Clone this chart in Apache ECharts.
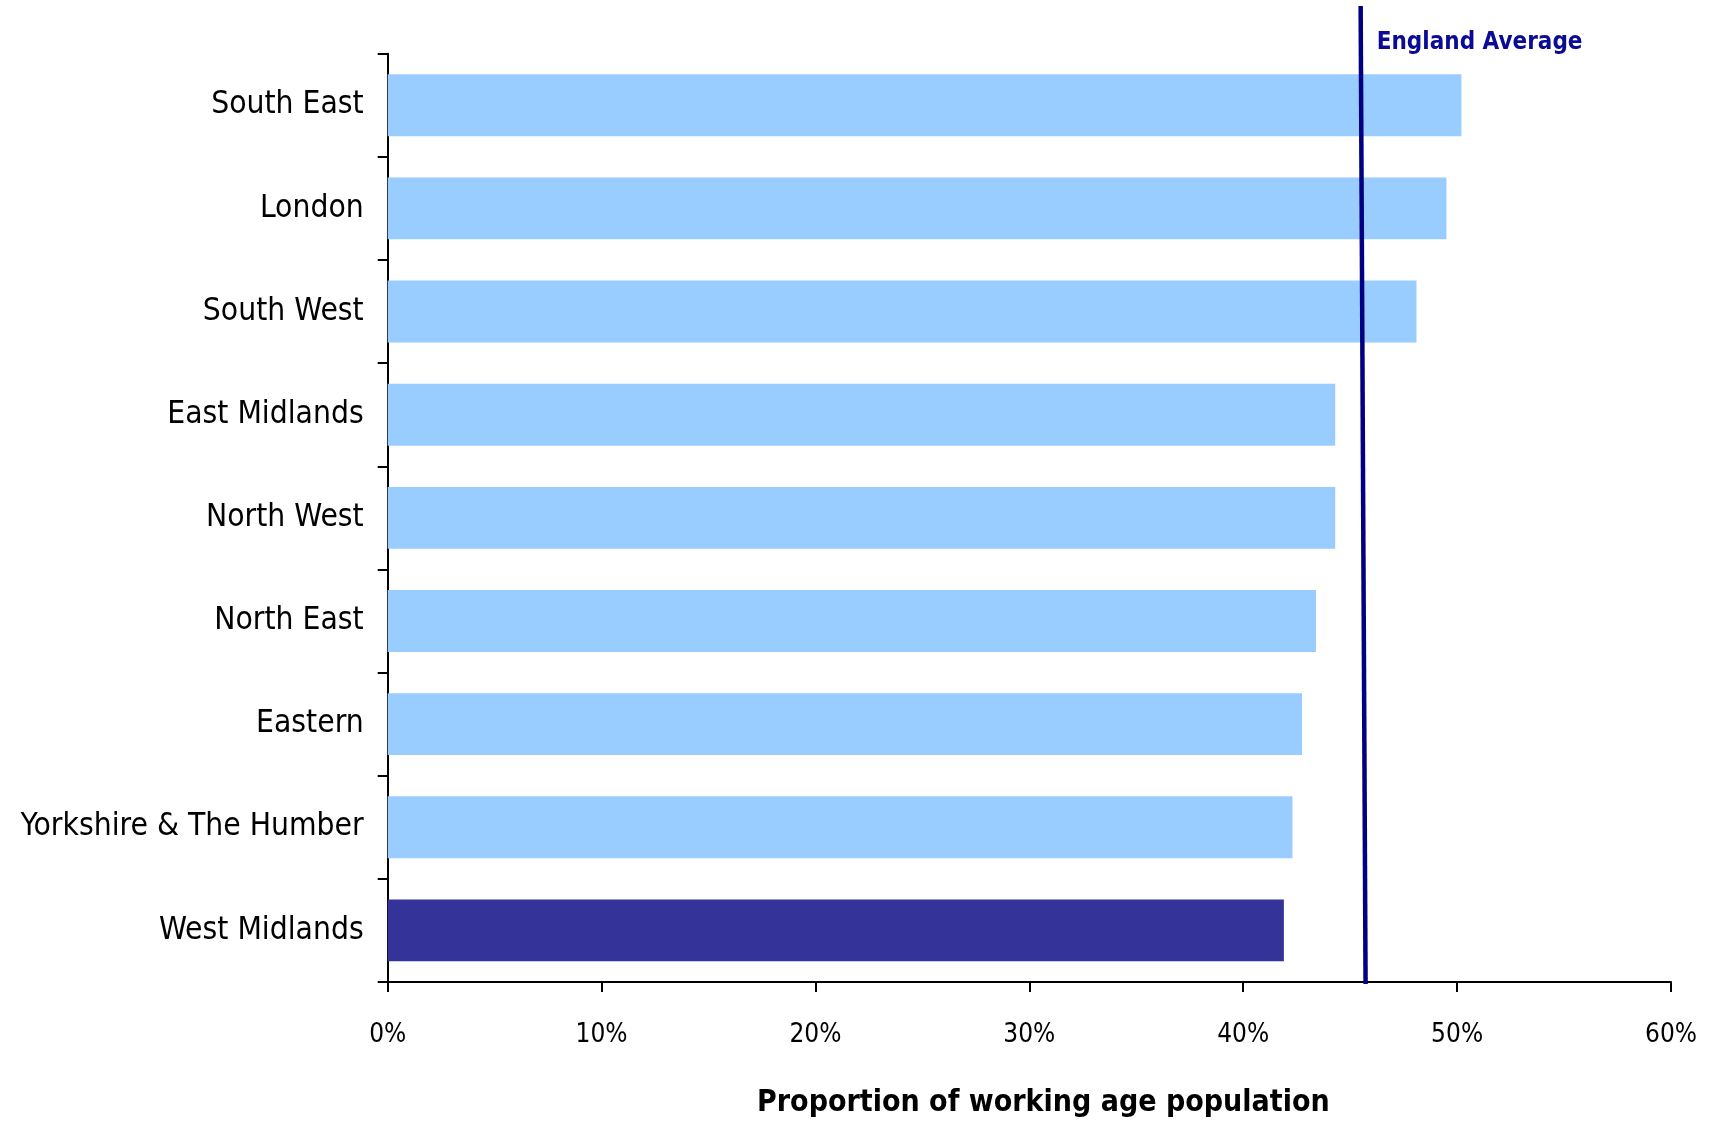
<!DOCTYPE html>
<html>
<head>
<meta charset="utf-8">
<script src="https://cdn.jsdelivr.net/npm/echarts@6/dist/echarts.min.js"></script>
<style>
html,body{margin:0;padding:0;background:#fff;}
#chart{width:1711px;height:1123px;}
</style>
</head>
<body>
<div id="chart"></div>
<script>
const categories = ["South East","London","South West","East Midlands","North West","North East","Eastern","Yorkshire & The Humber","West Midlands"];
const values = [50.2, 49.5, 48.1, 44.3, 44.3, 43.4, 42.75, 42.3, 41.9];
const highlightRegion = "West Midlands";
const englandAverageBottom = 45.72;
const englandAverageTop = 45.49;
const englandAverageLabel = "England Average";
const xTicks = [0, 10, 20, 30, 40, 50, 60];
const xAxisTitle = "Proportion of working age population";

const LABEL_FONT = '"DejaVu Sans Condensed", "DejaVu Sans", sans-serif';
const TICK_FONT = '"DejaVu Sans Condensed", "DejaVu Sans", sans-serif';

const chart = echarts.init(document.getElementById('chart'), null, {renderer: 'canvas'});

const barData = values.map((v, i) => categories[i] === highlightRegion
  ? {value: v, itemStyle: {color: '#333399'}}
  : v);

const option = {
  animation: false,
  backgroundColor: '#ffffff',
  grid: [
    {left: 387.7, right: 40, top: 53.7, bottom: 140.3, containLabel: false},
    {left: 387.7, right: 40, top: 6, bottom: 139, containLabel: false}
  ],
  xAxis: [
    {
      type: 'value', gridIndex: 0,
      min: xTicks[0], max: xTicks[xTicks.length - 1], interval: xTicks[1] - xTicks[0],
      axisLine: {show: true, lineStyle: {color: '#000', width: 2}},
      axisTick: {show: true, length: 10, lineStyle: {color: '#000', width: 2}},
      splitLine: {show: false},
      axisLabel: {
        margin: 40, color: '#000', fontFamily: TICK_FONT, fontSize: 26,
        formatter: v => v + '%'
      },
      name: xAxisTitle,
      nameLocation: 'middle',
      nameGap: 106,
      nameTextStyle: {
        color: '#000', fontFamily: LABEL_FONT, fontWeight: 'bold', fontSize: 30,
        padding: [0, 0, 0, 28]
      }
    },
    {
      type: 'value', gridIndex: 1, min: 0, max: 60, show: false
    }
  ],
  yAxis: [
    {
      type: 'category', gridIndex: 0, data: categories, inverse: true,
      axisLine: {show: true, lineStyle: {color: '#000', width: 2}},
      axisTick: {show: true, length: 10, lineStyle: {color: '#000', width: 2}},
      axisLabel: {margin: 24, color: '#000', fontFamily: LABEL_FONT, fontSize: 31.5}
    },
    {
      type: 'value', gridIndex: 1, min: 0, max: 1, show: false
    }
  ],
  series: [
    {
      type: 'bar', xAxisIndex: 0, yAxisIndex: 0,
      data: barData,
      barCategoryGap: '40%',
      itemStyle: {color: '#99CCFF'},
      silent: true
    },
    {
      type: 'line', xAxisIndex: 1, yAxisIndex: 1,
      data: [
        [englandAverageBottom, 0],
        {
          value: [englandAverageTop, 1],
          label: {
            show: true, position: 'right', offset: [11, 37],
            formatter: englandAverageLabel,
            color: '#0b0b96', fontFamily: LABEL_FONT, fontWeight: 'bold', fontSize: 24
          }
        }
      ],
      symbol: 'circle', symbolSize: 0.1, showSymbol: true,
      lineStyle: {color: '#000080', width: 4.5},
      itemStyle: {color: '#000080'},
      silent: true,
      z: 5
    }
  ]
};
chart.setOption(option);
</script>
</body>
</html>
